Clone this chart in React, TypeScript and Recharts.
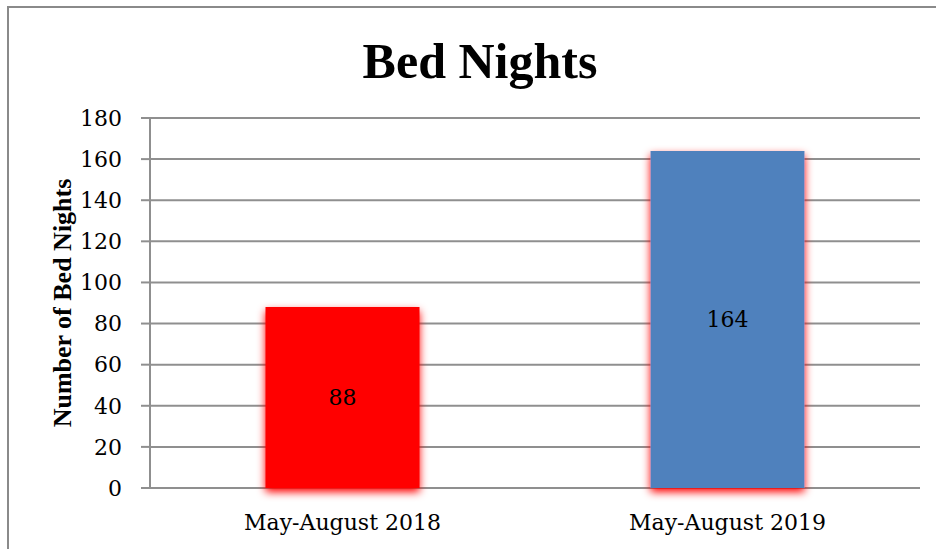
import { Bar, BarChart, CartesianGrid, Cell, LabelList, XAxis, YAxis } from "recharts"

const CATEGORIES = ["May-August 2018", "May-August 2019"]
const BED_NIGHTS = [88, 164]
const BAR_COLORS = ["#ff0000", "#4f81bd"]
const Y_TICKS = [0, 20, 40, 60, 80, 100, 120, 140, 160, 180]
const EDGE_TICKS = [0, 1, 2]

const data = CATEGORIES.map((name, i) => ({ name, value: BED_NIGHTS[i] }))

const GRID = "#8f8f8f"
const FRAME = "#8a8a8a"
const SERIF = "'DejaVu Serif', serif"
const SERIF_BOLD = "'Liberation Serif', 'Times New Roman', serif"

export default function App() {
  return (
    <div
      style={{
        position: "relative",
        width: 936,
        height: 549,
        overflow: "hidden",
        background: "#fff",
      }}
    >
      <style>{"body { margin: 0; overflow: hidden; }"}</style>
      {/* frame: only the top and left edges fall inside the window */}
      <svg width={936} height={549} style={{ position: "absolute", left: 0, top: 0 }}>
        <path d="M8 549 V7 H936" fill="none" stroke={FRAME} strokeWidth={2} />
      </svg>
      <div
        style={{
          position: "absolute",
          left: 24,
          top: 36,
          width: 912,
          textAlign: "center",
          fontFamily: SERIF_BOLD,
          fontWeight: "bold",
          fontSize: 50,
          lineHeight: 1,
          color: "#000",
        }}
      >
        Bed Nights
      </div>
      <div style={{ position: "absolute", left: 0, top: 0 }}>
        <BarChart
          width={936}
          height={549}
          data={data}
          margin={{ top: 118, right: 16, left: 0, bottom: 0 }}
          barCategoryGap="30%"
        >
          <defs>
            <filter id="red-glow" x="-20%" y="-20%" width="140%" height="140%">
              <feDropShadow dx="0" dy="4" stdDeviation="4.5" floodColor="#ff0000" floodOpacity="1" />
            </filter>
          </defs>
          <CartesianGrid vertical={false} stroke={GRID} strokeWidth={2} />
          <XAxis
            xAxisId="edges"
            type="number"
            dataKey="value"
            domain={[0, 2]}
            ticks={EDGE_TICKS}
            tick={false}
            tickSize={9}
            height={0}
            stroke={GRID}
            strokeWidth={2}
            allowDataOverflow
          />
          <XAxis
            xAxisId="cat"
            dataKey="name"
            height={61}
            axisLine={false}
            tickLine={false}
            tickSize={0}
            tickMargin={26}
            tick={{ fill: "#000", fontSize: 22, fontFamily: SERIF }}
          />
          <YAxis
            width={150}
            domain={[0, 180]}
            ticks={Y_TICKS}
            interval={0}
            stroke={GRID}
            strokeWidth={2}
            tickSize={9}
            tickMargin={19}
            tick={{ fill: "#000", fontSize: 22, fontFamily: SERIF }}
            label={{
              content: ({ viewBox }: any) => {
                const cy = viewBox.y + viewBox.height / 2
                return (
                  <text
                    x={62}
                    y={cy}
                    transform={`rotate(-90, 62, ${cy})`}
                    textAnchor="middle"
                    dominantBaseline="central"
                    fontFamily={SERIF_BOLD}
                    fontWeight="bold"
                    fontSize={26}
                    fill="#000"
                  >
                    Number of Bed Nights
                  </text>
                )
              },
            }}
          />
          <Bar dataKey="value" xAxisId="cat" isAnimationActive={false} filter="url(#red-glow)">
            {data.map((d, i) => (
              <Cell key={d.name} fill={BAR_COLORS[i]} />
            ))}
            <LabelList
              dataKey="value"
              position="center"
              fill="#000"
              fontSize={22}
              fontFamily={SERIF}
            />
          </Bar>
        </BarChart>
      </div>
    </div>
  )
}
